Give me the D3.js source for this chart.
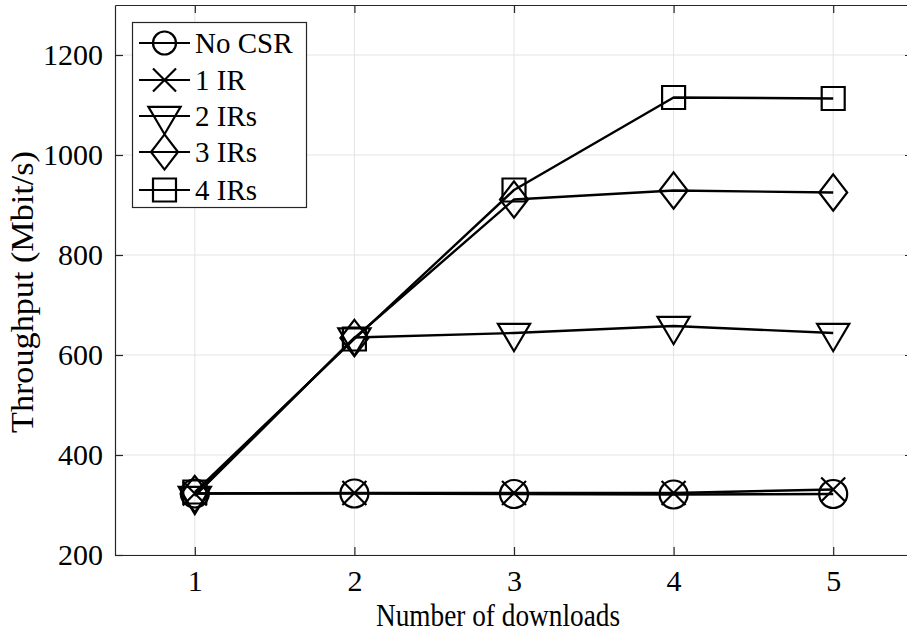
<!DOCTYPE html>
<html>
<head>
  <meta charset="utf-8">
  <script src="https://d3js.org/d3.v7.min.js"></script>
  <style>
    body { margin: 0; background: #fff; }
    text { font-family: "Liberation Serif", "Times New Roman", serif; fill: #000; }
  </style>
</head>
<body>
<script>
  // data
  var downloads = [1, 2, 3, 4, 5];
  var seriesNames = ["No CSR", "1 IR", "2 IRs", "3 IRs", "4 IRs"];
  var noCSR    = [323, 323, 322, 321, 322];
  var oneIR    = [323, 324, 324, 324, 331];
  var twoIRs   = [318, 635, 644, 658, 644];
  var threeIRs = [322, 634, 911, 929, 925];
  var fourIRs  = [326, 632, 930, 1115, 1113];
  var yTicks = [200, 400, 600, 800, 1000, 1200];
  var xTicks = [1, 2, 3, 4, 5];

  var allSeries = [noCSR, oneIR, twoIRs, threeIRs, fourIRs];
  var markerKinds = ["circle", "cross", "triDown", "diamond", "square"];

  var W = 907, H = 637;
  var padL = 115, padR = 913, padT = 5, padB = 555;

  var svg = d3.select("body").append("svg")
      .attr("width", W)
      .attr("height", H);

  var x = d3.scaleLinear().domain([0.5, 5.5]).range([padL, padR]);
  var y = d3.scaleLinear().domain([200, 1300]).range([padB, padT]);

  // grid
  var grid = svg.append("g").attr("stroke", "#e3e3e3").attr("stroke-width", 1);
  grid.selectAll(".gx").data(xTicks).enter().append("line")
      .attr("x1", d => x(d)).attr("x2", d => x(d))
      .attr("y1", padT).attr("y2", padB);
  grid.selectAll(".gy").data(yTicks).enter().append("line")
      .attr("x1", padL).attr("x2", padR)
      .attr("y1", d => y(d)).attr("y2", d => y(d));

  // axes, ticks pointing inwards like matlab
  var tickLen = 8;
  var fmt = d3.format("d");
  var xAxis = svg.append("g")
      .attr("transform", "translate(0," + padB + ")")
      .call(d3.axisBottom(x).tickValues(xTicks).tickFormat(fmt).tickSize(-tickLen).tickPadding(15).tickSizeOuter(0));
  var xTop = svg.append("g")
      .attr("transform", "translate(0," + padT + ")")
      .call(d3.axisTop(x).tickValues(xTicks).tickSize(-tickLen).tickFormat("").tickSizeOuter(0));
  var yAxis = svg.append("g")
      .attr("transform", "translate(" + padL + ",0)")
      .call(d3.axisLeft(y).tickValues(yTicks).tickFormat(fmt).tickSize(-tickLen).tickPadding(12).tickSizeOuter(0));
  var yRight = svg.append("g")
      .attr("transform", "translate(" + padR + ",0)")
      .call(d3.axisRight(y).tickValues(yTicks).tickSize(-tickLen).tickFormat("").tickSizeOuter(0));

  [xAxis, xTop, yAxis, yRight].forEach(function (g) {
    g.select(".domain").attr("stroke", "#262626").attr("stroke-width", 1.2);
    g.selectAll(".tick line").attr("stroke", "#262626").attr("stroke-width", 1.2);
    g.selectAll(".tick text")
      .style("font-family", '"Liberation Serif", "Times New Roman", serif')
      .style("font-size", "30px").attr("fill", "#000");
  });
  xAxis.selectAll(".tick text").attr("dy", "0.71em");

  // marker shapes
  function markerPath(kind, s) {
    var p = d3.path();
    if (kind == "circle") {
      p.moveTo(s, 0); p.arc(0, 0, s, 0, 2 * Math.PI);
    } else if (kind == "cross") {
      p.moveTo(-s, -s); p.lineTo(s, s); p.moveTo(-s, s); p.lineTo(s, -s);
    } else if (kind == "triDown") {
      var w = s * 1.15, h = s * 1.95;
      p.moveTo(-w, -h / 3); p.lineTo(w, -h / 3); p.lineTo(0, 2 * h / 3); p.closePath();
    } else if (kind == "diamond") {
      p.moveTo(0, -s * 1.3); p.lineTo(s, 0); p.lineTo(0, s * 1.3); p.lineTo(-s, 0); p.closePath();
    } else if (kind == "square") {
      p.rect(-s, -s, 2 * s, 2 * s);
    }
    return p.toString();
  }
  var plotSize = { circle: 14, cross: 12, triDown: 14, diamond: 14, square: 11.5 };
  var legSize  = { circle: 11.5, cross: 11.5, triDown: 14, diamond: 13.5, square: 11.5 };

  var line = d3.line().x(d => x(d[0])).y(d => y(d[1]));

  allSeries.forEach(function (vals, i) {
    var pts = downloads.map((d, j) => [d, vals[j]]);
    var g = svg.append("g").attr("class", "series");
    g.append("path")
      .attr("d", line(pts))
      .attr("fill", "none").attr("stroke", "#000").attr("stroke-width", 2.4)
      .attr("stroke-linejoin", "round");
    g.selectAll(".mk").data(pts).enter().append("path")
      .attr("transform", d => "translate(" + x(d[0]) + "," + y(d[1]) + ")")
      .attr("d", markerPath(markerKinds[i], plotSize[markerKinds[i]]))
      .attr("fill", "none").attr("stroke", "#000").attr("stroke-width", 2.2);
  });

  // legend
  var leg = svg.append("g");
  leg.append("rect")
    .attr("x", 132.5).attr("y", 22.5).attr("width", 174).attr("height", 185)
    .attr("fill", "#fff").attr("stroke", "#262626").attr("stroke-width", 1.2);
  var rowY = [43, 80, 116, 152, 190];
  seriesNames.forEach(function (name, i) {
    var ry = rowY[i];
    leg.append("line").attr("x1", 139).attr("x2", 190).attr("y1", ry).attr("y2", ry)
      .attr("stroke", "#000").attr("stroke-width", 2.2);
    leg.append("path")
      .attr("transform", "translate(164.5," + ry + ")")
      .attr("d", markerPath(markerKinds[i], legSize[markerKinds[i]]))
      .attr("fill", "none").attr("stroke", "#000").attr("stroke-width", 2.2);
    leg.append("text").attr("x", 195).attr("y", ry).attr("dy", "0.35em")
      .style("font-size", "29px").text(name);
  });

  // axis labels
  svg.append("text")
    .attr("x", 498).attr("y", 626)
    .attr("text-anchor", "middle")
    .style("font-size", "31px")
    .attr("textLength", 244).attr("lengthAdjust", "spacingAndGlyphs")
    .text("Number of downloads");
  svg.append("text")
    .attr("transform", "translate(33,292) rotate(-90)")
    .attr("text-anchor", "middle")
    .style("font-size", "32px")
    .attr("textLength", 282).attr("lengthAdjust", "spacingAndGlyphs")
    .text("Throughput (Mbit/s)");
</script>
</body>
</html>
